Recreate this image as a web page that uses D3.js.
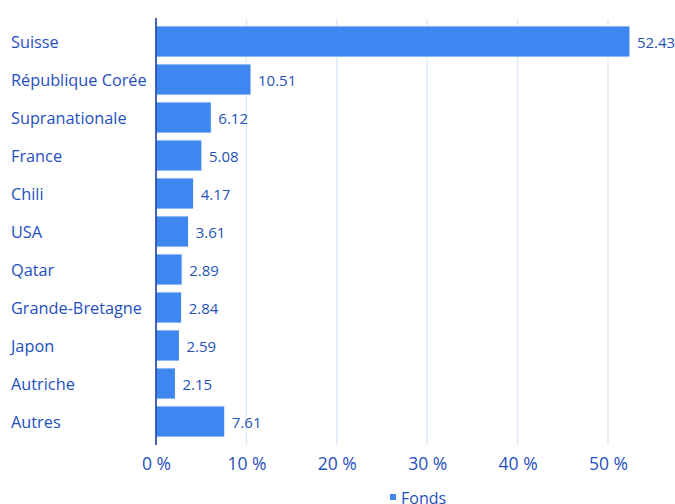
<!DOCTYPE html>
<html>
<head>
<meta charset="utf-8">
<script src="https://cdn.jsdelivr.net/npm/d3@7"></script>
<style>
  body { margin: 0; background: #fff; }
  svg { font-family: "Open Sans", "Noto Sans", sans-serif; }
</style>
</head>
<body>
<svg id="chart" width="675" height="504"></svg>
<script>
// values
const countries = ["Suisse", "République Corée", "Supranationale", "France", "Chili", "USA",
                   "Qatar", "Grande-Bretagne", "Japon", "Autriche", "Autres"];
const fonds = [52.43, 10.51, 6.12, 5.08, 4.17, 3.61, 2.89, 2.84, 2.59, 2.15, 7.61];
const xTicks = [0, 10, 20, 30, 40, 50];
const seriesName = "Fonds";

const svg = d3.select("#chart");
const left = 156, right = 608;

var x = d3.scaleLinear().domain([0, 50]).range([left, right]);
var y = d3.scaleBand().domain(countries).range([22.5, 440.5]).paddingInner(0.18).paddingOuter(0.09);

// gridlines
svg.append("g")
  .selectAll("line").data(xTicks.slice(1)).enter().append("line")
  .attr("x1", d => x(d)).attr("x2", d => x(d))
  .attr("y1", 19).attr("y2", 445)
  .attr("stroke", "#dfeaf9").attr("stroke-width", 1.5);

// bars
svg.append("g")
  .selectAll("rect").data(fonds).enter().append("rect")
  .attr("x", x(0))
  .attr("y", (d, i) => y(countries[i]))
  .attr("width", d => x(d) - x(0))
  .attr("height", y.bandwidth())
  .attr("fill", "#3f87f0")
  .attr("stroke", "#ffffff").attr("stroke-width", 1);

// value labels
svg.append("g")
  .selectAll("text").data(fonds).enter().append("text")
  .attr("x", d => x(d) + 7)
  .attr("y", (d, i) => y(countries[i]) + y.bandwidth() / 2 + 1)
  .attr("dy", "0.35em")
  .attr("font-size", 15)
  .attr("fill", "#2553b8")
  .text(d => d.toFixed(2));

// category labels
svg.append("g")
  .selectAll("text").data(countries).enter().append("text")
  .attr("x", 11)
  .attr("y", d => y(d) + y.bandwidth() / 2 + 1)
  .attr("dy", "0.35em")
  .attr("font-size", 16.3)
  .attr("fill", "#1f4fbf")
  .text(d => d);

// y axis line
svg.append("line")
  .attr("x1", left).attr("x2", left)
  .attr("y1", 18).attr("y2", 445)
  .attr("stroke", "#0a2f9e").attr("stroke-width", 1.5);

// x axis labels
var xAxis = svg.append("g")
  .attr("transform", "translate(0,455)")
  .call(d3.axisBottom(x).tickValues(xTicks).tickSize(0).tickFormat(d => d + " %"));
xAxis.select(".domain").remove();
xAxis.selectAll("text")
  .attr("font-family", "\"Open Sans\", \"Noto Sans\", sans-serif")
  .attr("font-size", 17.5)
  .attr("fill", "#1f4fbf");

// legend
var legend = svg.append("g").attr("transform", "translate(390,498)");
legend.append("rect").attr("x", 0).attr("y", -4).attr("width", 6).attr("height", 6).attr("fill", "#3f87f0");
legend.append("text").attr("x", 11).attr("y", 0).attr("dy", "0.35em")
  .attr("font-size", 16).attr("fill", "#1f4fbf").text(seriesName);
</script>
</body>
</html>
